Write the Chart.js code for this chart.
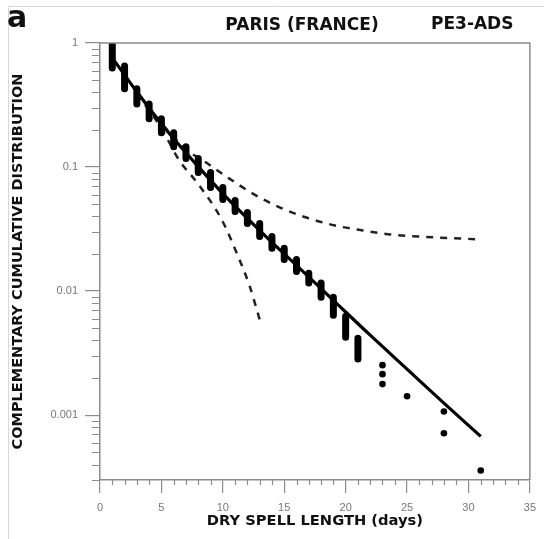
<!DOCTYPE html>
<html>
<head>
<meta charset="utf-8">
<script src="https://cdn.jsdelivr.net/npm/chart.js@4.4.0/dist/chart.umd.min.js"></script>
<style>
  html, body { margin: 0; padding: 0; background: #fff; }
  #wrap { width: 544px; height: 539px; }
</style>
</head>
<body>
<div id="wrap"><canvas id="ccdf"></canvas></div>
<script>
// observed CCDF: tied spell lengths stack into a vertical run at each day
const colDays = [1, 2, 3, 4, 5, 6, 7, 8, 9, 10, 11, 12, 13, 14, 15, 16, 17, 18, 19, 20, 21];
const colTop = [1.0, 0.653, 0.427, 0.323, 0.245, 0.189, 0.146, 0.117, 0.0902, 0.0683, 0.0537,
  0.0430, 0.0351, 0.0276, 0.0221, 0.0180, 0.0139, 0.0116, 0.00892, 0.00627, 0.00417];
const colBottom = [0.629, 0.427, 0.323, 0.245, 0.189, 0.146, 0.117, 0.0902, 0.0683, 0.0547, 0.0438,
  0.0351, 0.0276, 0.0221, 0.0180, 0.0144, 0.0116, 0.00892, 0.00639, 0.00425, 0.00283];

// single observations in the tail
const tailDays = [23, 23, 23, 25, 28, 28, 31];
const tailProb = [0.00253, 0.00214, 0.00178, 0.00142, 0.00107, 0.000715, 0.000358];

// fitted PE3 distribution
const fitDays = [1, 2, 3, 4, 5, 6, 7, 8, 10, 12, 14, 16, 19, 22, 25, 28, 31];
const fitProb = [0.758, 0.553, 0.404, 0.300, 0.223, 0.169, 0.1306, 0.1007, 0.0611, 0.0385,
  0.0247, 0.01612, 0.00843, 0.00441, 0.00235, 0.00125, 0.000674];

// confidence limits
const upperDays = [3, 5, 7.2, 8.29, 10.44, 12.58, 14.71, 16.86, 19.13, 21.41, 23.68, 27.29, 31];
const upperProb = [0.40, 0.225, 0.134, 0.1147, 0.0818, 0.0600, 0.0469, 0.0390, 0.0338, 0.0308,
  0.0286, 0.0271, 0.0261];
const lowerDays = [3, 5, 6.42, 8.03, 9.9, 11.24, 12.18, 13.0];
const lowerProb = [0.39, 0.205, 0.1147, 0.0722, 0.0378, 0.0191, 0.0110, 0.0059];

const xTicks = [0, 5, 10, 15, 20, 25, 30, 35];
const yTicks = [0.001, 0.01, 0.1, 1];

const toXY = (xs, ys) => xs.map((x, i) => ({ x: x, y: ys[i] }));

const columnPoints = [];
colDays.forEach((d, i) => {
  columnPoints.push({ x: d, y: colTop[i] }, { x: d, y: colBottom[i] }, { x: d, y: null });
});

const axisGrey = '#8c8c8c';
const labelFont = { family: 'Liberation Sans', size: 11 };
const heavy = 'DejaVu Sans';

// minor tick marks, plot frame and header text
const decorations = {
  id: 'decorations',
  beforeDraw(chart) {
    const ctx = chart.ctx;
    ctx.save();
    ctx.strokeStyle = '#d8d8d8';
    ctx.lineWidth = 1;
    ctx.beginPath();
    ctx.moveTo(8.5, chart.height);
    ctx.lineTo(8.5, 6.5);
    ctx.lineTo(chart.width, 6.5);
    ctx.stroke();
    ctx.restore();
  },
  afterDraw(chart) {
    const ctx = chart.ctx;
    const area = chart.chartArea;
    const xs = chart.scales.x, ys = chart.scales.y;
    ctx.save();
    ctx.strokeStyle = axisGrey;
    ctx.lineWidth = 1.2;
    ctx.beginPath();
    for (let d = 1; d < 35; d++) {
      if (d % 5 === 0) continue;
      const px = Math.round(xs.getPixelForValue(d)) + 0.5;
      ctx.moveTo(px, area.bottom);
      ctx.lineTo(px, area.bottom + 5);
    }
    for (let k = -4; k < 0; k++) {
      for (let m = 2; m <= 9; m++) {
        const v = m * Math.pow(10, k);
        if (v < ys.min || v > ys.max) continue;
        const py = Math.round(ys.getPixelForValue(v)) + 0.5;
        ctx.moveTo(area.left, py);
        ctx.lineTo(area.left - 8, py);
      }
    }
    ctx.stroke();
    ctx.lineWidth = 1.5;
    ctx.beginPath();
    ctx.moveTo(area.left, area.top);
    ctx.lineTo(area.right, area.top);
    ctx.lineTo(area.right, area.bottom);
    ctx.stroke();

    ctx.fillStyle = '#111';
    ctx.textBaseline = 'alphabetic';
    ctx.font = 'bold 30px "' + heavy + '"';
    ctx.textAlign = 'left';
    ctx.fillText('a', 7, 27);
    ctx.font = 'bold 17px "' + heavy + '"';
    ctx.textAlign = 'center';
    ctx.fillText('PARIS (FRANCE)', 302, 29.5);
    ctx.textAlign = 'left';
    ctx.fillText('PE3-ADS', 431, 29);
    ctx.restore();
  }
};

new Chart(document.getElementById('ccdf'), {
  type: 'scatter',
  data: {
    datasets: [
      {
        data: toXY(fitDays, fitProb),
        showLine: true,
        borderColor: '#000',
        borderWidth: 3.2,
        cubicInterpolationMode: 'monotone',
        pointRadius: 0
      },
      {
        data: columnPoints,
        showLine: true,
        spanGaps: false,
        borderColor: '#000',
        borderWidth: 7,
        borderCapStyle: 'round',
        pointRadius: 0
      },
      {
        data: toXY(tailDays, tailProb),
        backgroundColor: '#000',
        borderWidth: 0,
        pointRadius: 3.3
      },
      {
        data: toXY(upperDays, upperProb),
        showLine: true,
        borderColor: '#222',
        borderWidth: 2.5,
        borderDash: [7, 7],
        cubicInterpolationMode: 'monotone',
        pointRadius: 0
      },
      {
        data: toXY(lowerDays, lowerProb),
        showLine: true,
        borderColor: '#222',
        borderWidth: 2.5,
        borderDash: [7, 7],
        cubicInterpolationMode: 'monotone',
        pointRadius: 0
      }
    ]
  },
  options: {
    responsive: true,
    maintainAspectRatio: false,
    animation: false,
    layout: { padding: { top: 43, right: 8, left: 0, bottom: 0 } },
    plugins: {
      legend: { display: false },
      tooltip: { enabled: false }
    },
    scales: {
      x: {
        type: 'linear',
        min: 0,
        max: 35,
        afterBuildTicks: s => { s.ticks = xTicks.map(v => ({ value: v })); },
        afterFit: s => { s.height = 59; },
        grid: { drawOnChartArea: false, tickLength: 13, color: axisGrey, lineWidth: 1.2 },
        border: { color: axisGrey, width: 1.5 },
        ticks: { color: '#777', font: labelFont, padding: 8, maxRotation: 0 },
        title: {
          display: true,
          text: 'DRY SPELL LENGTH (days)',
          color: '#111',
          font: { family: heavy, weight: 'bold', size: 14.7 },
          padding: { top: 0, bottom: 9 }
        }
      },
      y: {
        type: 'logarithmic',
        min: 0.0003,
        max: 1,
        afterBuildTicks: s => { s.ticks = yTicks.map(v => ({ value: v })); },
        afterFit: s => { s.width = 100; },
        grid: { drawOnChartArea: false, tickLength: 15, color: axisGrey, lineWidth: 1.2 },
        border: { color: axisGrey, width: 1.5 },
        ticks: { color: '#777', font: labelFont, padding: 7, callback: v => String(v) },
        title: {
          display: true,
          text: 'COMPLEMENTARY CUMULATIVE DISTRIBUTION',
          color: '#111',
          font: { family: heavy, weight: 'bold', size: 14.5 },
          padding: { top: 10, bottom: 0 }
        }
      }
    }
  },
  plugins: [decorations]
});
</script>
</body>
</html>
